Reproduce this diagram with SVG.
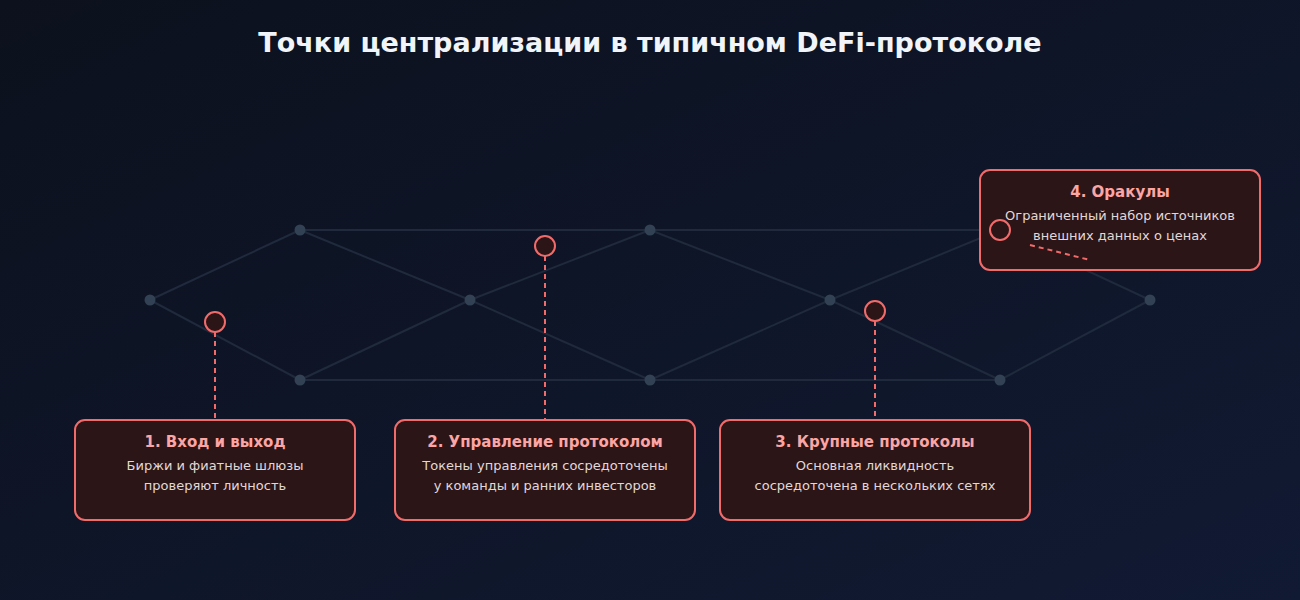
<svg xmlns="http://www.w3.org/2000/svg" width="1300" height="600" viewBox="0 0 1300 600">
<defs>
<linearGradient id="bg" x1="0" y1="0" x2="1" y2="1">
<stop offset="0" stop-color="#0c111d"/>
<stop offset="1" stop-color="#111a33"/>
</linearGradient>
<style>
.edge{stroke:#1f2a3c;stroke-width:2;fill:none}
.dot{fill:#334155}
.mark{fill:#2b1516;stroke:#f26b6b;stroke-width:2}
.dash{stroke:#f26b6b;stroke-width:2;stroke-dasharray:5 4;fill:none}
.box{fill:#2b1516;stroke:#f26b6b;stroke-width:2}
.title{font-family:"DejaVu Sans",sans-serif;font-weight:bold;font-size:27px;fill:#f1f5f9}
.bt{font-family:"DejaVu Sans",sans-serif;font-weight:bold;font-size:15px;fill:#fca5a5}
.bd{font-family:"DejaVu Sans",sans-serif;font-size:13px;fill:#e2d8d8}
</style>
</defs>
<rect width="1300" height="600" fill="url(#bg)"/>
<text class="title" x="650" y="52" text-anchor="middle">Точки централизации в типичном DeFi-протоколе</text>
<g id="network">
<line class="edge" x1="150" y1="300" x2="300" y2="230"/>
<line class="edge" x1="150" y1="300" x2="300" y2="380"/>
<line class="edge" x1="300" y1="230" x2="470" y2="300"/>
<line class="edge" x1="300" y1="380" x2="470" y2="300"/>
<line class="edge" x1="300" y1="230" x2="650" y2="230"/>
<line class="edge" x1="300" y1="380" x2="650" y2="380"/>
<line class="edge" x1="470" y1="300" x2="650" y2="230"/>
<line class="edge" x1="470" y1="300" x2="650" y2="380"/>
<line class="edge" x1="650" y1="230" x2="830" y2="300"/>
<line class="edge" x1="650" y1="380" x2="830" y2="300"/>
<line class="edge" x1="650" y1="230" x2="1000" y2="230"/>
<line class="edge" x1="650" y1="380" x2="1000" y2="380"/>
<line class="edge" x1="830" y1="300" x2="1000" y2="230"/>
<line class="edge" x1="830" y1="300" x2="1000" y2="380"/>
<line class="edge" x1="1000" y1="230" x2="1150" y2="300"/>
<line class="edge" x1="1000" y1="380" x2="1150" y2="300"/>
<circle class="dot" cx="150" cy="300" r="5.5"/>
<circle class="dot" cx="300" cy="230" r="5.5"/>
<circle class="dot" cx="300" cy="380" r="5.5"/>
<circle class="dot" cx="470" cy="300" r="5.5"/>
<circle class="dot" cx="650" cy="230" r="5.5"/>
<circle class="dot" cx="650" cy="380" r="5.5"/>
<circle class="dot" cx="830" cy="300" r="5.5"/>
<circle class="dot" cx="1000" cy="230" r="5.5"/>
<circle class="dot" cx="1000" cy="380" r="5.5"/>
<circle class="dot" cx="1150" cy="300" r="5.5"/>
</g>
<g id="connectors">
<line class="dash" x1="215" y1="332" x2="215" y2="420"/>
<line class="dash" x1="545" y1="256" x2="545" y2="420"/>
<line class="dash" x1="875" y1="321" x2="875" y2="420"/>
</g>
<g id="mark1"><circle class="mark" cx="215" cy="322" r="10"/></g>
<g id="mark2"><circle class="mark" cx="545" cy="246" r="10"/></g>
<g id="mark3"><circle class="mark" cx="875" cy="311" r="10"/></g>
<g id="box1">
<rect class="box" x="75" y="420" width="280" height="100" rx="10"/>
<text class="bt" x="215" y="447" text-anchor="middle">1. Вход и выход</text>
<text class="bd" x="215" y="470" text-anchor="middle">Биржи и фиатные шлюзы</text>
<text class="bd" x="215" y="490" text-anchor="middle">проверяют личность</text>
</g>
<g id="box2">
<rect class="box" x="395" y="420" width="300" height="100" rx="10"/>
<text class="bt" x="545" y="447" text-anchor="middle">2. Управление протоколом</text>
<text class="bd" x="545" y="470" text-anchor="middle">Токены управления сосредоточены</text>
<text class="bd" x="545" y="490" text-anchor="middle">у команды и ранних инвесторов</text>
</g>
<g id="box3">
<rect class="box" x="720" y="420" width="310" height="100" rx="10"/>
<text class="bt" x="875" y="447" text-anchor="middle">3. Крупные протоколы</text>
<text class="bd" x="875" y="470" text-anchor="middle">Основная ликвидность</text>
<text class="bd" x="875" y="490" text-anchor="middle">сосредоточена в нескольких сетях</text>
</g>
<g id="box4">
<rect class="box" x="980" y="170" width="280" height="100" rx="10"/>
<text class="bt" x="1120" y="197" text-anchor="middle">4. Оракулы</text>
<text class="bd" x="1120" y="220" text-anchor="middle">Ограниченный набор источников</text>
<text class="bd" x="1120" y="240" text-anchor="middle">внешних данных о ценах</text>
<circle class="mark" cx="1000" cy="230" r="10"/>
<line class="dash" x1="1030" y1="245" x2="1090" y2="260"/>
</g>
</svg>
